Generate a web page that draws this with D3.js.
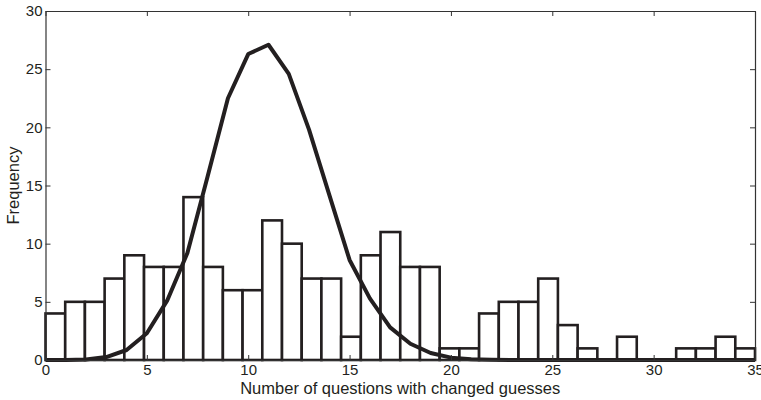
<!DOCTYPE html>
<html>
<head>
<meta charset="utf-8">
<script src="https://cdn.jsdelivr.net/npm/d3@7"></script>
<style>
  body { margin: 0; background: #fff; }
  text { font-family: "Liberation Sans", Arial, sans-serif; fill: #231f20; }
</style>
</head>
<body>
<svg id="chart" width="761" height="400"></svg>
<script>
// histogram: 36 bins spanning 0..35
const binCounts = [4, 5, 5, 7, 9, 8, 8, 14, 8, 6, 6, 12, 10, 7, 7, 2, 9, 11, 8, 8,
                   1, 1, 4, 5, 5, 7, 3, 1, 0, 2, 0, 0, 1, 1, 2, 1];
// fitted curve, sampled at integer x
const curveX = d3.range(0, 36);
const curveY = [0, 0, 0.05, 0.25, 0.86, 2.3, 5.1, 9.2, 15.8, 22.5, 26.3, 27.1, 24.6, 19.8,
                14.2, 8.6, 5.3, 2.8, 1.4, 0.6, 0.2, 0.07, 0.02, 0, 0, 0, 0, 0, 0, 0,
                0, 0, 0, 0, 0, 0];
const xTicks = [0, 5, 10, 15, 20, 25, 30, 35];
const yTicks = [0, 5, 10, 15, 20, 25, 30];

const svg = d3.select("#chart");
const m = { top: 11, right: 6, bottom: 40, left: 45.5 };
const W = 761, H = 400;
const ink = "#231f20";

const x = d3.scaleLinear().domain([0, 35]).range([m.left, W - m.right]);
const y = d3.scaleLinear().domain([0, 30]).range([H - m.bottom, m.top]);

const binW = 35 / binCounts.length;

// bars
svg.append("g")
  .selectAll("rect")
  .data(binCounts)
  .join("rect")
  .attr("x", (d, i) => x(i * binW))
  .attr("width", (d, i) => x((i + 1) * binW) - x(i * binW))
  .attr("y", d => y(d))
  .attr("height", d => y(0) - y(d))
  .attr("fill", "#fff")
  .attr("stroke", ink)
  .attr("stroke-width", 2.6);

// curve
const line = d3.line()
  .x((d, i) => x(curveX[i]))
  .y(d => y(d));
svg.append("path")
  .datum(curveY)
  .attr("d", line)
  .attr("fill", "none")
  .attr("stroke", ink)
  .attr("stroke-width", 4)
  .attr("stroke-linejoin", "round");

// axes box with inward ticks on all sides
const tickLen = 5;
const axisColor = "#333";
const fs = 15;
svg.append("g")
  .attr("transform", `translate(0,${y(0)})`)
  .call(d3.axisBottom(x).tickValues(xTicks).tickSizeInner(-tickLen).tickSizeOuter(0).tickPadding(4.5))
  .call(g => g.selectAll("text").attr("font-size", fs).attr("fill", ink));
svg.append("g")
  .attr("transform", `translate(0,${y(30)})`)
  .call(d3.axisTop(x).tickValues(xTicks).tickSizeInner(-tickLen).tickSizeOuter(0).tickFormat(""));
svg.append("g")
  .attr("transform", `translate(${x(0)},0)`)
  .call(d3.axisLeft(y).tickValues(yTicks).tickSizeInner(-tickLen).tickSizeOuter(0).tickPadding(3))
  .call(g => g.selectAll("text").attr("font-size", fs).attr("fill", ink));
svg.append("g")
  .attr("transform", `translate(${x(35)},0)`)
  .call(d3.axisRight(y).tickValues(yTicks).tickSizeInner(-tickLen).tickSizeOuter(0).tickFormat(""));

svg.selectAll(".domain").attr("stroke", axisColor).attr("stroke-width", 1.2);
svg.selectAll(".tick line").attr("stroke", axisColor).attr("stroke-width", 1);
svg.selectAll(".tick text").attr("font-family", "Liberation Sans, Arial, sans-serif");

// axis titles
svg.append("text")
  .attr("x", (x(0) + x(35)) / 2)
  .attr("y", 394)
  .attr("text-anchor", "middle")
  .attr("font-size", 16.5)
  .text("Number of questions with changed guesses");
svg.append("text")
  .attr("transform", `translate(19,${(y(0) + y(30)) / 2}) rotate(-90)`)
  .attr("text-anchor", "middle")
  .attr("font-size", 16.5)
  .text("Frequency");
</script>
</body>
</html>
